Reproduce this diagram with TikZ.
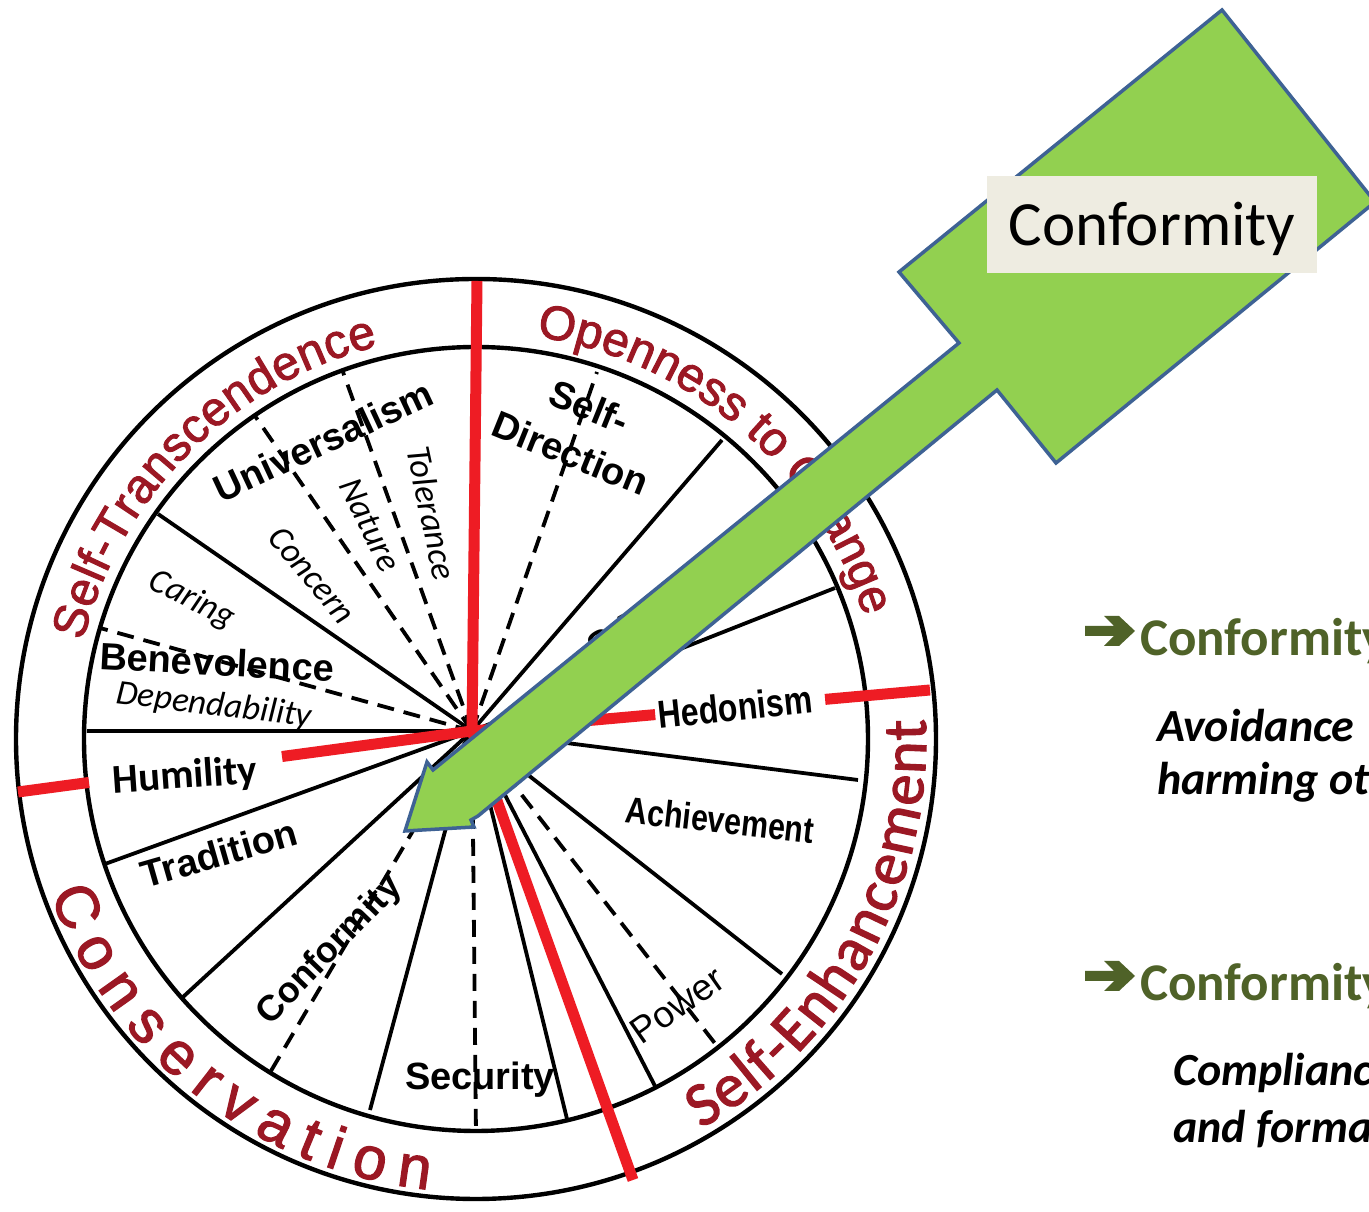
\documentclass[tikz,border=0pt]{standalone}
\usepackage{fontspec}
\setmainfont{Liberation Sans}
\newfontfamily\calib{Carlito}
\newfontfamily\condsans{Liberation Sans}[FakeStretch=0.82]
\newfontfamily\ringsans{Liberation Sans}[FakeBold=2]
\newfontfamily\ringcalib{Carlito}[FakeBold=2]
\usetikzlibrary{decorations.text,calc}
\definecolor{ringred}{RGB}{155,24,36}
\definecolor{wheelred}{RGB}{238,28,36}
\definecolor{arrowgreen}{RGB}{146,208,80}
\definecolor{arrowblue}{RGB}{62,98,148}
\definecolor{boxbg}{RGB}{238,236,225}
\definecolor{headgreen}{RGB}{79,98,40}
\newcommand\ringA{\ringsans\fontsize{48}{56}\selectfont\color{ringred}}
\newcommand\ringC{\ringcalib\fontsize{62}{70}\selectfont\color{ringred}}
\newcommand\ringD{\ringsans\fontsize{60}{68}\selectfont\color{ringred}}
\tikzset{
  ringline/.style={line width=4.4pt},
  spoke/.style={line width=3.8pt},
  dspoke/.style={line width=3.8pt, dash pattern=on 17pt off 10pt},
  redline/.style={line width=11pt, draw=wheelred},
  wl/.style={inner sep=0pt, font=\bfseries\fontsize{38}{44}\selectfont},
  wlit/.style={inner sep=0pt, font=\calib\itshape\fontsize{35}{40}\selectfont},
  headtxt/.style={inner sep=0pt, anchor=base west, text=headgreen, font=\calib\bfseries\fontsize{53}{60}\selectfont},
  desctxt/.style={inner sep=0pt, anchor=base west, font=\calib\bfseries\itshape\fontsize{46}{52}\selectfont},
  bullet/.style={fill=headgreen},
}
\begin{document}
\begin{tikzpicture}[x=1pt,y=1pt]
\useasboundingbox (0,0) rectangle (1369,1212);
\clip (0,0) rectangle (1369,1212);
\fill[white] (0,0) rectangle (1369,1212);
\coordinate (O) at (476,473);
\coordinate (P) at (472,481);
% solid spoke ends
\coordinate (s1) at (722,772);
\coordinate (s2) at (835,624);
\coordinate (s3) at (858,432);
\coordinate (s4) at (782,238);
\coordinate (s5) at (656,124);
\coordinate (s6) at (567,93);
\coordinate (s7) at (370,102);
\coordinate (s8) at (183,215);
\coordinate (s9) at (105,348);
\coordinate (s10) at (87,481);
\coordinate (s11) at (158,698);
% dashed spoke ends
\coordinate (d1) at (100,584);
\coordinate (d2) at (255,796);
\coordinate (d3) at (343,840);
\coordinate (d4) at (597,840);
\coordinate (d5) at (476,77);
\coordinate (d6) at (717,166);
\coordinate (d7) at (268,136);
% red ends
\coordinate (rU) at (477,931);
\coordinate (rL) at (18,420);
\coordinate (rR) at (930,522);
\coordinate (rD) at (633,32);

\foreach \e in {s1,s2,s3,s4,s5,s6,s7,s8,s9,s10,s11} \draw[spoke] (P) -- (\e);
\foreach \e in {d1,d2,d3,d4,d5,d6,d7} \draw[dspoke] (P) -- (\e);

\draw[ringline] (O) circle[radius=460];
\draw[ringline] (O) circle[radius=392];

\draw[redline] (P) -- (rU);
\draw[redline] (P) -- ($(P)!0.4185!(rL)$);
\draw[redline] ($(P)!0.8436!(rL)$) -- (rL);
\draw[redline] (P) -- ($(P)!0.40!(rR)$);
\draw[redline] ($(P)!0.771!(rR)$) -- (rR);
\draw[redline] (P) -- (rD);

% wheel labels
\node[wl, rotate=25] (univ) at (323,771) {Universalism};
\node[wl, rotate=-22, align=center, font=\bfseries\fontsize{38}{50}\selectfont] (sdir) at (580,782) {Self-\\Direction};
\node[wl, rotate=31] (stim) at (679,615) {Stimulation};
\node[wl, rotate=6, font=\condsans\bfseries\fontsize{39}{44}\selectfont] (hedo) at (735,505) {Hedonism};
\node[wl, rotate=-6.4, font=\condsans\bfseries\fontsize{37}{42}\selectfont] (achi) at (720,392) {Achievement};
\node[wl, rotate=35, font=\fontsize{37}{42}\selectfont] (powr) at (677,207) {Power};
\node[wl] (secu) at (480,132) {Security};
\node[wl, rotate=46, font=\bfseries\fontsize{36}{42}\selectfont] (conw) at (330,261) {Conformity};
\node[wl, rotate=16] (trad) at (219,359) {Tradition};
\node[wl, rotate=4, font=\calib\bfseries\fontsize{41}{46}\selectfont] (humi) at (185,435) {Humility};
\node[wl, rotate=-3] (bene) at (217,550) {Benevolence};
\node[wlit, rotate=-7] (depe) at (214,506) {Dependability};
\node[wlit, rotate=-27] (cari) at (192,612) {Caring};
\node[wlit, rotate=-50] (conc) at (312,637) {Concern};
\node[wlit, rotate=-64] (natu) at (370,687) {Nature};
\node[wlit, rotate=-78] (tole) at (432,699) {Tolerance};

% ring texts
\path[decorate, decoration={text along path, text={|\ringA|Self-Transcendence}, text align={fit to path}}]
  ($(O)+(166:405)$) arc[start angle=166, end angle=104, radius=405];
\path[decorate, decoration={text along path, text={|\ringA|Openness to Change}, text align={fit to path}}]
  ($(O)+(81.5:407)$) arc[start angle=81.5, end angle=17.5, radius=407];
\path[decorate, decoration={text along path, text={|\ringC|Self-Enhancement}, text align={fit to path}}]
  ($(O)+(-60:450)$) arc[start angle=-60, end angle=2.5, radius=450];
\path[decorate, decoration={text along path, text={|\ringD|Conservation}, text align={fit to path}}]
  ($(O)+(200:453)$) arc[start angle=200, end angle=264, radius=453];

% green arrow
\draw[fill=arrowgreen, draw=arrowblue, line width=3.5pt, line join=miter]
  (405,381) -- (427,450) -- (433,442) -- (959,869) -- (899,940) -- (1222,1202)
  -- (1375,1010) -- (1056,749) -- (997,822) -- (478,396) -- (471,392) -- (474,385) -- cycle;

\node[fill=boxbg, minimum width=330pt, minimum height=97pt, inner sep=0pt] (cbox) at (1152,987.5) {};
\node[anchor=base, inner sep=0pt, font=\calib\fontsize{63}{70}\selectfont] (ctext) at (1152,966) {Conformity};

% right side texts
\foreach \dy in {0,345}{
  \fill[bullet] (1085,586-\dy) -- (1114,586-\dy) -- (1104,596-\dy) -- (1119,596-\dy) -- (1135,581-\dy)
    -- (1119,566-\dy) -- (1104,566-\dy) -- (1114,576-\dy) -- (1085,576-\dy) -- cycle;
}
\node[headtxt] (h1) at (1140,556) {Conformity};
\node[desctxt] (t1) at (1157,470) {Avoidance};
\node[desctxt] (t2) at (1157,417) {harming ot};
\node[headtxt] (h2) at (1140,211) {Conformity};
\node[desctxt] (t3) at (1173,126) {Compliance};
\node[desctxt] (t4) at (1173,69) {and forma};
\end{tikzpicture}
\end{document}
